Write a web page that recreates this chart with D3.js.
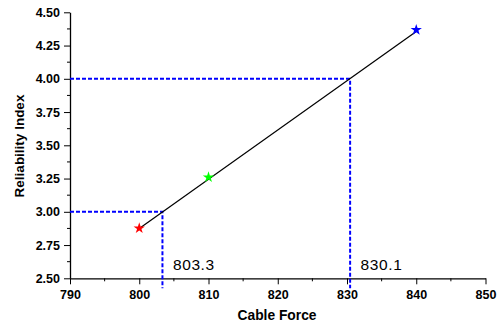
<!DOCTYPE html>
<html><head><meta charset="utf-8">
<script src="https://d3js.org/d3.v7.min.js"></script>
<style>body{margin:0;background:#fff}svg{display:block}</style>
</head><body>
<script>
const forceValues = [800, 810, 840];
const reliabilityValues = [2.876, 3.26, 4.368];
const pointColors = ["#ff0000", "#00ff00", "#0000ff"];
const fitForce = [800, 840];
const fitReliability = [2.874, 4.355];
const xTicks = [790, 800, 810, 820, 830, 840, 850];
const yTicks = [2.50, 2.75, 3.00, 3.25, 3.50, 3.75, 4.00, 4.25, 4.50];
const targetReliability = [3.0, 4.0];
const targetForce = [803.35, 830.45];
const targetLabels = ["803.3", "830.1"];

const W = 500, H = 324;
const FONT = "Liberation Sans, Arial, sans-serif";
const svg = d3.select("body").append("svg").attr("width", W).attr("height", H);
const x = d3.scaleLinear().domain([790, 850]).range([70, 485.5]);
const y = d3.scaleLinear().domain([2.5, 4.5]).range([278.3, 12.3]);

// minor ticks
const xMinor = d3.range(795, 850, 10);
const yMinor = d3.range(2.625, 4.5, 0.25);
svg.append("g").selectAll("line").data(xMinor).join("line")
  .attr("x1", d => x(d)).attr("x2", d => x(d)).attr("y1", y(2.5)).attr("y2", y(2.5) + 3)
  .attr("stroke", "#000");
svg.append("g").selectAll("line").data(yMinor).join("line")
  .attr("y1", d => y(d)).attr("y2", d => y(d)).attr("x1", x(790)).attr("x2", x(790) - 3)
  .attr("stroke", "#000");

const xAxis = svg.append("g").attr("transform", `translate(0,${y(2.5)})`)
  .call(d3.axisBottom(x).tickValues(xTicks).tickFormat(d3.format("d")).tickSize(6).tickPadding(3).tickSizeOuter(0));
const yAxis = svg.append("g").attr("transform", `translate(${x(790)},0)`)
  .call(d3.axisLeft(y).tickValues(yTicks).tickFormat(d3.format(".2f")).tickSize(6).tickPadding(4).tickSizeOuter(0));
[xAxis, yAxis].forEach(g => {
  g.select(".domain").attr("stroke", "#000").attr("stroke-width", 1.3);
  g.selectAll(".tick line").attr("stroke", "#000");
  g.selectAll("text").attr("font-family", FONT)
   .attr("font-size", 12.5).attr("font-weight", "bold").attr("fill", "#000");
});
xAxis.selectAll("text").attr("dy", "0.9em");

// dashed guide lines
const guides = svg.append("g").attr("fill", "none").attr("stroke", "#0000ff")
  .attr("stroke-width", 2).attr("stroke-dasharray", "4,2");
targetReliability.forEach((r, i) => {
  guides.append("path").attr("d", d3.line()([[x(790), y(r)], [x(targetForce[i]), y(r)], [x(targetForce[i]), y(2.5) + 10]]));
});

// fitted line
const pts = fitForce.map((f, i) => [x(f), y(fitReliability[i])]);
svg.append("path").attr("d", d3.line()(pts)).attr("fill", "none").attr("stroke", "#000").attr("stroke-width", 1.2);

// star markers
const star = d3.symbol().type(d3.symbolStar).size(40);
svg.append("g").selectAll("path").data(forceValues).join("path")
  .attr("d", star).attr("transform", (d, i) => `translate(${x(d)},${y(reliabilityValues[i])})`)
  .attr("fill", (d, i) => pointColors[i]);

// annotations
svg.append("g").selectAll("text").data(targetForce).join("text")
  .attr("x", d => x(d) + 10.5).attr("y", 269.5)
  .attr("font-family", FONT).attr("font-size", 15.5)
  .attr("letter-spacing", 0.6).attr("fill", "#000")
  .text((d, i) => targetLabels[i]);

// axis titles
svg.append("text").attr("x", 277).attr("y", 319.5).attr("text-anchor", "middle")
  .attr("font-family", FONT).attr("font-size", 13.8)
  .attr("font-weight", "bold").text("Cable Force");
svg.append("text").attr("transform", "translate(23.5,146) rotate(-90)").attr("text-anchor", "middle")
  .attr("font-family", FONT).attr("font-size", 13.5)
  .attr("font-weight", "bold").text("Reliability Index");
</script>
</body></html>
